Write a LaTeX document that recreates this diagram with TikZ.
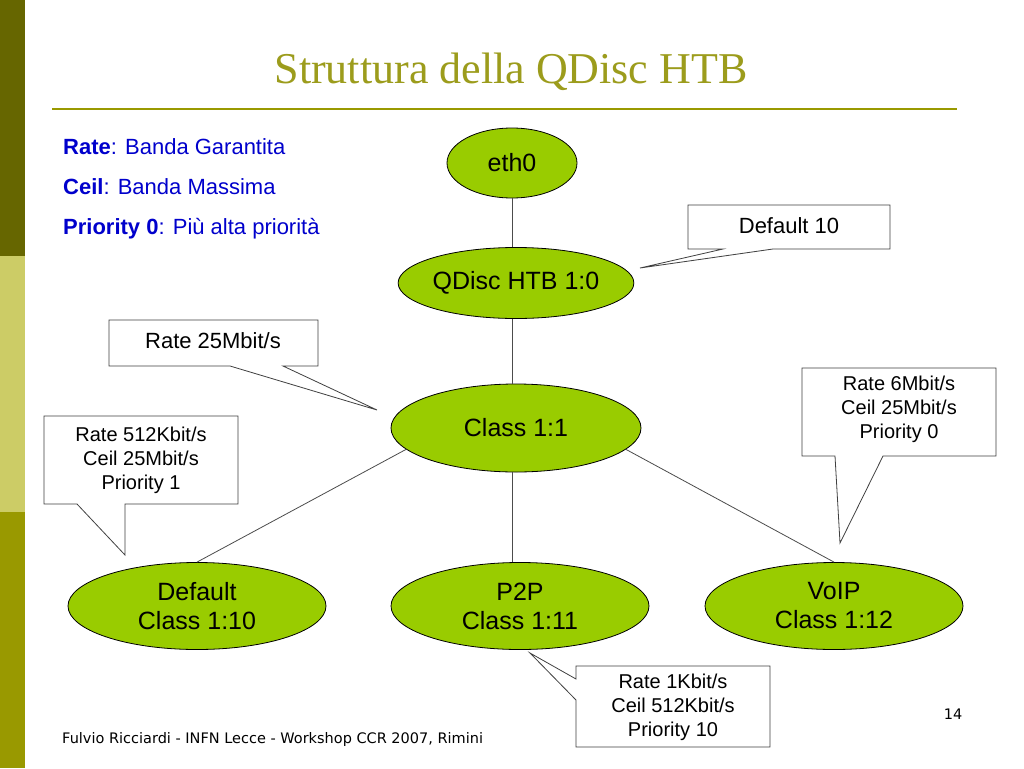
\documentclass[tikz,border=0pt]{standalone}
\usepackage{fontspec}
\setmainfont{Liberation Sans}
\newfontfamily\titlefont{Liberation Serif}
\newfontfamily\footfont{DejaVu Sans}
\usetikzlibrary{shapes.geometric}
\definecolor{oliveDark}{HTML}{666600}
\definecolor{oliveLight}{HTML}{CCCC66}
\definecolor{oliveMid}{HTML}{999900}
\definecolor{titleCol}{HTML}{9C9C1C}
\definecolor{nodeGreen}{HTML}{99CC00}
\definecolor{legendBlue}{HTML}{0000CC}
\definecolor{calloutBorder}{HTML}{404040}
\tikzset{
  ell/.style={ellipse, draw=black, fill=nodeGreen, line width=0.8pt, inner sep=0pt, align=center,
    font=\fontsize{25}{29}\selectfont},
  callbox/.style={draw=calloutBorder, fill=white, line width=0.8pt, line join=miter},
  calltext/.style={align=center, inner sep=0pt, font=\fontsize{20}{24}\selectfont},
  calltextbig/.style={align=center, inner sep=0pt, font=\fontsize{22}{26}\selectfont},
  edge/.style={draw=black!70, line width=0.8pt},
  legend/.style={anchor=base west, inner sep=0pt, text=legendBlue, font=\fontsize{22}{26}\selectfont},
  foottext/.style={inner sep=0pt, font=\footfont\fontsize{14.5}{17}\selectfont},
}
\begin{document}
\begin{tikzpicture}[x=1pt,y=-1pt]
\useasboundingbox (0,0) rectangle (1024,768);
\fill[white] (0,0) rectangle (1024,768);
% sidebar
\fill[oliveDark] (0,0) rectangle (25,256);
\fill[oliveLight] (0,256) rectangle (25,512);
\fill[oliveMid] (0,512) rectangle (25,768);
% title
\node[anchor=base, inner sep=0pt, text=titleCol, font=\titlefont\fontsize{44}{50}\selectfont] (title) at (511,83) {Struttura della QDisc HTB};
\draw[oliveMid, line width=2.5pt] (52,109) -- (957,109);
% legend
\node[legend] (lg1) at (63,154) {\textbf{Rate}: Banda Garantita};
\node[legend] (lg2) at (63,194) {\textbf{Ceil}: Banda Massima};
\node[legend] (lg3) at (63,234) {\textbf{Priority 0}: Più alta priorità};

% ellipses
\node[ell, minimum width=130, minimum height=70] (eth) at (512,163) {eth0};
\node[ell, minimum width=235, minimum height=71] (qd) at (516,283) {QDisc HTB 1:0};
\node[ell, minimum width=250, minimum height=88] (c11) at (516,428) {Class 1:1};
\node[ell, minimum width=258, minimum height=87] (c10) at (197,606) {Default\\Class 1:10};
\node[ell, minimum width=258, minimum height=87] (c1a) at (520,606) {P2P\\Class 1:11};
\node[ell, minimum width=258, minimum height=87] (c12) at (834,606) {VoIP\\Class 1:12};

% edges
\draw[edge] (eth.south) -- (eth.south |- qd.north);
\draw[edge] (eth.south |- qd.south) -- (eth.south |- c11.north);
\draw[edge] (eth.south |- c11.south) -- (eth.south |- c1a.north);
\draw[edge] (c11.191) -- (c10.north);
\draw[edge] (c11.349) -- (c12.north);

% callouts
% Default 10
\draw[callbox] (688,249) -- (688,205) -- (890,205) -- (890,249) -- (773,249) -- (640,268) -- (723,249) -- cycle;
\node[calltextbig] (cb1) at (789,226) {Default 10};
% Rate 25Mbit/s
\draw[callbox] (109,366) -- (109,320) -- (318,320) -- (318,366) -- (283,366) -- (377,410) -- (230,366) -- cycle;
\node[calltextbig] (cb2) at (213,341) {Rate 25Mbit/s};
% Rate 512Kbit/s
\draw[callbox] (44,504) -- (44,416) -- (238,416) -- (238,504) -- (125,504) -- (125,555) -- (77,504) -- cycle;
\node[calltext] (cb3) at (141,460) {Rate 512Kbit/s\\Ceil 25Mbit/s\\Priority 1};
% Rate 6Mbit/s
\draw[callbox] (802,456) -- (802,368) -- (996,368) -- (996,456) -- (883,456) -- (840,543) -- (835,456) -- cycle;
\node[calltext] (cb4) at (899,409) {Rate 6Mbit/s\\Ceil 25Mbit/s\\Priority 0};
% Rate 1Kbit/s
\draw[callbox] (576,679) -- (576,666) -- (770,666) -- (770,747) -- (576,747) -- (576,700) -- (530,653) -- cycle;
\node[calltext] (cb5) at (673,707) {Rate 1Kbit/s\\Ceil 512Kbit/s\\Priority 10};

% footer
\node[foottext, anchor=base west] (foot) at (62,743) {Fulvio Ricciardi - INFN Lecce - Workshop CCR 2007, Rimini};
\node[foottext, anchor=base] (pg) at (953,719) {14};
\end{tikzpicture}
\end{document}
